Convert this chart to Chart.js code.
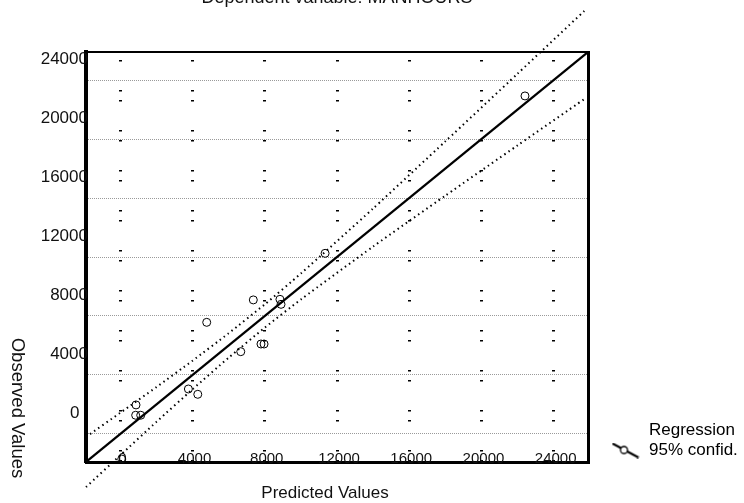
<!DOCTYPE html>
<html>
<head>
<meta charset="utf-8">
<script src="https://cdn.jsdelivr.net/npm/chart.js@4.4.1/dist/chart.umd.min.js"></script>
<style>
    html, body { margin: 0; padding: 0; background: #fff; overflow: hidden; }
    #wrap { position: relative; width: 744px; height: 503px; overflow: hidden; }
    #chart { position: absolute; left: 0; top: -13px; }
</style>
</head>
<body>
<div id="wrap"><canvas id="chart" width="744" height="516"></canvas></div>
<script>
// Observed vs predicted values (MANHOURS)
const predicted = [22410, 11340, 7365, 8840, 8900, 4785, 6670, 7790, 7960, 3770, 4290, 870, 850, 1130, 80];
const observed  = [22920, 12250, 9090, 9130, 8790, 7570, 5580, 6100, 6100, 3050, 2690, 1970, 1270, 1270, -1700];

// Regression line (observed = predicted)
const fitX = [-1900, 25900];
const fitY = [-1900, 25900];

// 95% confidence band
const bandX     = [-1900, 0, 2000, 4000, 6000, 8000, 10000, 14000, 18000, 22000, 25700];
const bandUpper = [-200, 1440, 3180, 4970, 6830, 8790, 10880, 15290, 19840, 24430, 28690];
const bandLower = [-3600, -1440, 820, 3030, 5170, 7210, 9120, 12710, 16160, 19570, 22710];

const tickValues = [0, 4000, 8000, 12000, 16000, 20000, 24000];
const axisMin = -1900;
const axisMax = 25900;

Chart.defaults.font.family = '"Liberation Sans", Arial, sans-serif';
Chart.defaults.color = '#111';

const toPoints = (xs, ys) => xs.map((x, i) => ({ x: x, y: ys[i] }));
const setTicks = s => { s.ticks = tickValues.map(v => ({ value: v })); };

// legend symbol: slanted line with a small circle
const sym = document.createElement('canvas');
sym.width = 28;
sym.height = 16;
const sc = sym.getContext('2d');
sc.strokeStyle = '#000';
sc.lineWidth = 2;
sc.beginPath();
sc.moveTo(1, 1);
sc.lineTo(27, 15);
sc.stroke();
sc.beginPath();
sc.arc(12.5, 7.5, 3.5, 0, Math.PI * 2);
sc.fillStyle = '#fff';
sc.fill();
sc.lineWidth = 1.3;
sc.stroke();

// axis titles (y title reads top to bottom)
const axisTitles = {
    id: 'axisTitles',
    afterDraw(chart) {
        const ctx = chart.ctx;
        ctx.save();
        ctx.fillStyle = '#111';
        ctx.textAlign = 'center';
        ctx.textBaseline = 'middle';
        ctx.font = '17px "Liberation Sans", Arial, sans-serif';
        ctx.fillText('Predicted Values', 325, 506);
        ctx.font = '18.5px "Liberation Sans", Arial, sans-serif';
        ctx.translate(17, 421);
        ctx.rotate(Math.PI / 2);
        ctx.fillText('Observed Values', 0, 0);
        ctx.restore();
    }
};

const bandStyle = {
    type: 'line',
    borderColor: '#000',
    borderWidth: 2,
    borderDash: [1.5, 3.5],
    pointRadius: 0,
    tension: 0.2,
    fill: false,
    clip: false
};

new Chart(document.getElementById('chart'), {
    type: 'scatter',
    data: {
        datasets: [
            {
                label: 'Regression',
                type: 'line',
                data: toPoints(fitX, fitY),
                borderColor: '#000',
                borderWidth: 2.2,
                pointRadius: 0,
                fill: false
            },
            Object.assign({ label: 'Upper 95%', data: toPoints(bandX, bandUpper) }, bandStyle),
            Object.assign({ label: 'Lower 95%', data: toPoints(bandX, bandLower) }, bandStyle),
            {
                label: 'Observed',
                data: toPoints(predicted, observed),
                pointStyle: 'circle',
                pointRadius: 4,
                borderWidth: 1,
                borderColor: '#000',
                backgroundColor: 'rgba(0,0,0,0)'
            }
        ]
    },
    options: {
        responsive: false,
        animation: false,
        events: [],
        layout: { padding: 0 },
        plugins: {
            title: {
                display: true,
                text: 'Dependent variable: MANHOURS',
                fullSize: false,
                color: '#111',
                font: { size: 18, weight: 'normal' },
                padding: { top: 0, bottom: 43.4 }
            },
            legend: {
                position: 'right',
                align: 'end',
                fullSize: false,
                maxWidth: 136.5,
                labels: {
                    usePointStyle: true,
                    pointStyleWidth: 30,
                    padding: 3,
                    color: '#111',
                    font: { size: 17 },
                    generateLabels: () => [
                        { text: 'Regression', fillStyle: 'rgba(0,0,0,0)', strokeStyle: 'rgba(0,0,0,0)', lineWidth: 0, pointStyle: 'circle', hidden: false, datasetIndex: 0 },
                        { text: '95% confid.', fillStyle: '#fff', strokeStyle: '#000', lineWidth: 1, pointStyle: sym, hidden: false, datasetIndex: 1 }
                    ]
                }
            },
            tooltip: { enabled: false }
        },
        scales: {
            x: {
                type: 'linear',
                position: 'bottom',
                min: axisMin,
                max: axisMax,
                afterFit: s => { s.height = 41; },
                afterBuildTicks: setTicks,
                grid: { color: '#000', lineWidth: 3, drawTicks: false },
                border: { color: '#000', width: 3, dash: [1.5, 8.5, 1.5, 28.5], dashOffset: 2 },
                ticks: {
                    mirror: true,
                    padding: -6,
                    labelOffset: 2,
                    maxRotation: 0,
                    autoSkip: false,
                    color: '#111',
                    font: { size: 15 },
                    callback: v => String(v)
                }
            },
            y: {
                type: 'linear',
                position: 'left',
                min: axisMin,
                max: axisMax,
                afterFit: s => { s.width = 86; },
                afterBuildTicks: setTicks,
                grid: { color: '#9a9a9a', lineWidth: 1, drawTicks: false },
                border: { color: '#000', width: 4, dash: [1, 1] },
                ticks: {
                    mirror: true,
                    crossAlign: 'far',
                    padding: -45.3,
                    labelOffset: -21,
                    color: '#111',
                    font: { size: 17 },
                    callback: v => (v === 0 ? '0\u2002' : String(v))
                }
            },
            x2: {
                type: 'linear',
                position: 'top',
                min: axisMin,
                max: axisMax,
                afterFit: s => { s.height = 0; },
                grid: { display: false, drawTicks: false },
                border: { color: '#000', width: 2 },
                ticks: { display: false }
            },
            y2: {
                type: 'linear',
                position: 'right',
                min: axisMin,
                max: axisMax,
                afterFit: s => { s.width = 19.5; },
                grid: { display: false, drawTicks: false },
                border: { color: '#000', width: 3 },
                ticks: { display: false }
            }
        }
    },
    plugins: [axisTitles]
});
</script>
</body>
</html>
